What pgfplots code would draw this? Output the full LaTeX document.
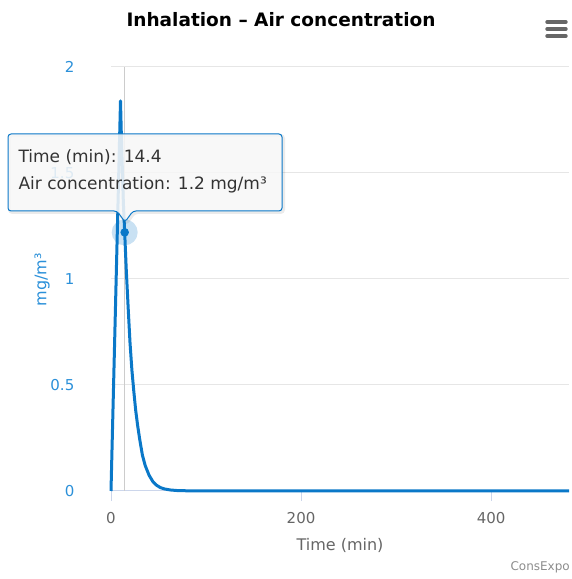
\documentclass[border=0pt]{standalone}
\usepackage{fontspec}
\setmainfont{DejaVu Sans}
\usepackage{pgfplots}
\pgfplotsset{compat=1.18}
\definecolor{lineblue}{HTML}{0A78C8}
\definecolor{labblue}{HTML}{2B90D9}
\definecolor{gridgray}{HTML}{E6E6E6}
\definecolor{axisgray}{HTML}{CCD6EB}
\definecolor{txtgray}{HTML}{666666}
\definecolor{tipfill}{HTML}{F7F7F7}
\definecolor{tiptext}{HTML}{333333}
\begin{document}
\begin{tikzpicture}[x=1pt,y=1pt]
\path[use as bounding box] (0,0) rectangle (571,579);
\begin{axis}[
  at={(111pt,88pt)}, anchor=south west,
  scale only axis, width=458pt, height=424pt,
  xmin=0, xmax=482, ymin=0, ymax=2,
  clip=false,
  axis x line*=bottom, axis y line*=left,
  x axis line style={axisgray, line width=1pt},
  y axis line style={draw=none},
  xtick={0,200,400},
  ytick={0,0.5,1,1.5,2},
  tick align=outside,
  major tick length=10pt,
  x tick style={axisgray, line width=1pt},
  y tick style={draw=none},
  ymajorgrids, grid style={gridgray, line width=1pt},
  /pgf/number format/assume math mode=true,
  yticklabel={\llap{\pgfmathprintnumber{\tick}}},
  yticklabel style={labblue, font=\fontsize{15}{17}\selectfont, anchor=east, inner sep=0pt, xshift=-26pt},
  xticklabel style={txtgray, font=\fontsize{15}{17}\selectfont, yshift=-8pt},
]
\draw[black!20, line width=1pt] (axis cs:14.4,0) -- (axis cs:14.4,2);
\addplot[lineblue, line width=3pt, no marks, line join=round] coordinates {
(0,0) (2.5,0.46) (5,0.92) (7.5,1.38) (10,1.84) (11,1.66) (12,1.51) (13,1.36)
(14.4,1.22) (16,1.05) (18,0.87) (20,0.70) (22,0.57) (24,0.47) (26,0.38)
(28,0.31) (30,0.25) (33,0.17) (36,0.12) (40,0.075) (44,0.045) (48,0.027)
(52,0.016) (56,0.01) (62,0.005) (70,0.002) (80,0.001) (100,0) (200,0)
(300,0) (400,0) (482,0)
};
\addplot[color=lineblue, only marks, mark=*, mark size=13pt, mark options={fill=lineblue, fill opacity=0.22, draw opacity=0}] coordinates {(14.4,1.22)};
\addplot[color=lineblue, only marks, mark=*, mark size=4.3pt, mark options={fill=lineblue, draw opacity=0}] coordinates {(14.4,1.22)};
\end{axis}
% axis titles
\node[anchor=center, text=txtgray, font=\fontsize{16}{18}\selectfont] at (340,34) {Time (min)};
\node[anchor=center, rotate=90, text=labblue, font=\fontsize{16}{18}\selectfont] at (42,299) {mg/m³};
% title
\node[font=\fontsize{18.5}{21}\selectfont\bfseries, text=black, anchor=center] at (281,559) {Inhalation – Air concentration};
% menu icon
\foreach \yy in {557,550,543} {
  \draw[txtgray, line width=3.4pt, line cap=round] (547,\yy) -- (566,\yy);
}
% tooltip
\draw[black, opacity=0.08, line width=3pt, rounded corners=3pt] (9.5,366.5) -- (9.5,443.5) -- (283.5,443.5) -- (283.5,366.5) -- (134.5,366.5) -- (126.5,355.5) -- (118.5,366.5) -- cycle;
\draw[lineblue, line width=1pt, fill=tipfill, fill opacity=0.88, rounded corners=3pt] (8,368) -- (8,445) -- (282,445) -- (282,368) -- (133,368) -- (125,357) -- (117,368) -- cycle;
\node[anchor=west, text=tiptext, font=\fontsize{17}{20}\selectfont] at (15,422) {Time (min): 14.4};
\node[anchor=west, text=tiptext, font=\fontsize{17}{20}\selectfont] at (15,394) {Air concentration: 1.2 mg/m³};
% credits
\node[anchor=east, text=black!45, font=\fontsize{12}{14}\selectfont, inner sep=0pt] at (570,12) {ConsExpo};
\end{tikzpicture}
\end{document}
